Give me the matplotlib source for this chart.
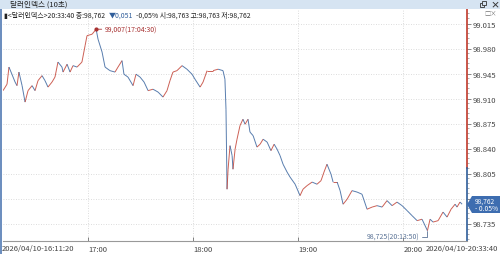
import matplotlib
matplotlib.use("Agg")
import matplotlib.pyplot as plt
import numpy as np
from matplotlib.collections import LineCollection
from matplotlib.patches import Polygon, Rectangle

plt.rcParams["font.family"] = ["Noto Sans CJK KR", "DejaVu Sans"]

# 경과 시간(분, 16:11:20 기준) / 가격 - 그림에서 읽은 값
elapsed_min = [0.0, 2.3, 3.4, 5.1, 6.9, 8.0, 9.1, 10.9, 12.6, 14.3, 16.6, 18.3, 20.0, 22.3,
               24.0, 25.7, 28.0, 29.7, 31.4, 33.7, 34.3, 36.6, 38.3, 40.0, 42.3, 45.1, 46.9,
               48.0, 50.9, 53.2, 54.3, 56.6, 58.3, 61.1, 64.0, 65.7, 68.0, 69.1, 71.4, 74.3,
               76.0, 78.3, 80.6, 82.9, 85.7, 88.6, 91.4, 93.7, 95.4, 97.1, 99.4, 102.3, 105.1,
               108.0, 109.7, 112.6, 114.3, 116.6, 120.0, 122.9, 125.7, 126.8, 127.4, 128.0,
               128.6, 129.7, 130.9, 131.4, 132.6, 133.7, 135.4, 137.1, 138.3, 140.0, 141.1,
               142.9, 145.1, 146.9, 148.6, 150.9, 153.1, 154.9, 156.6, 158.3, 160.0, 162.3,
               164.0, 166.9, 169.7, 171.4, 173.7, 176.6, 179.4, 181.7, 183.4, 185.1, 187.4,
               188.6, 190.9, 192.6, 194.3, 196.6, 199.4, 202.3, 205.1, 208.0, 210.9, 213.7,
               216.6, 219.4, 222.3, 225.1, 228.0, 230.9, 233.7, 236.6, 239.4, 242.5, 244.0,
               245.7, 248.6, 251.4, 253.7, 256.0, 258.3, 259.4, 261.1, 262.3]
price = [98.921, 98.930, 98.954, 98.944, 98.933, 98.928, 98.947, 98.928, 98.905, 98.921,
         98.928, 98.921, 98.935, 98.942, 98.935, 98.926, 98.933, 98.940, 98.961, 98.954,
         98.947, 98.958, 98.947, 98.956, 98.954, 98.961, 98.984, 98.998, 99.000, 99.007,
         98.993, 98.975, 98.954, 98.949, 98.947, 98.954, 98.963, 98.944, 98.940, 98.928,
         98.944, 98.940, 98.933, 98.921, 98.923, 98.919, 98.912, 98.921, 98.935, 98.947,
         98.949, 98.956, 98.951, 98.944, 98.937, 98.926, 98.933, 98.949, 98.949, 98.951,
         98.949, 98.937, 98.895, 98.783, 98.811, 98.844, 98.830, 98.811, 98.839, 98.853,
         98.872, 98.881, 98.874, 98.881, 98.863, 98.858, 98.842, 98.846, 98.853, 98.849,
         98.837, 98.846, 98.839, 98.830, 98.818, 98.807, 98.800, 98.790, 98.774, 98.783,
         98.788, 98.793, 98.790, 98.795, 98.807, 98.818, 98.804, 98.793, 98.793, 98.781,
         98.762, 98.769, 98.781, 98.779, 98.776, 98.755, 98.758, 98.760, 98.758,
         98.767, 98.760, 98.765, 98.760, 98.753, 98.746, 98.739, 98.741, 98.725, 98.741,
         98.737, 98.739, 98.751, 98.744, 98.755, 98.762, 98.758, 98.765, 98.762]

y_ticks = [98.735, 98.770, 98.805, 98.840, 98.875, 98.910, 98.945, 98.980, 99.015]
hour_pos = [48.67, 108.67, 168.67, 228.67]
hour_labels = ["17:00", "18:00", "19:00", "20:00"]
prev_close = 98.813
last_price = 98.762

UP = "#c0392b"
DOWN = "#2f5d9a"

fig = plt.figure(figsize=(5, 2.55), dpi=100)
fig.patch.set_facecolor("white")
W, H = 500, 255

def fx(px):
    return px / W

def fy(py):
    return 1 - py / H

ax = fig.add_axes([fx(3), fy(242), 464 / W, 232 / H])
ax.set_xlim(0, 265.1)
ax.set_ylim(98.7105, 99.0353)

# 그리드
for v in y_ticks:
    ax.axhline(v, color="#d0d0d0", lw=0.6, ls=(0, (1, 2)), zorder=0)
for h in hour_pos:
    ax.axvline(h, color="#d0d0d0", lw=0.6, ls=(0, (1, 2)), zorder=0)

# 가격선 (상승 빨강 / 하락 파랑)
t = np.array(elapsed_min)
p = np.array(price)
segs = np.stack([np.column_stack([t[:-1], p[:-1]]), np.column_stack([t[1:], p[1:]])], axis=1)
cols = [UP if b >= a else DOWN for a, b in zip(p[:-1], p[1:])]
ax.add_collection(LineCollection(segs, colors=cols, linewidths=0.7, alpha=0.8))

# 최고/최저 표시
imax = int(np.argmax(p))
imin = int(np.argmin(p))
ax.plot(t[imax], p[imax], "o", ms=2, color="#a83232")
ax.annotate("99,007(17:04:30)", xy=(t[imax], p[imax]), xytext=(6, 0),
            textcoords="offset points", fontsize=5, color="#a83232", va="center",
            arrowprops=dict(arrowstyle="-", color="#a83232", lw=0.6, shrinkA=0, shrinkB=0))
ax.annotate("98,725(20:13:50)", xy=(t[imin], p[imin]), xytext=(-6, -4.5),
            textcoords="offset points", fontsize=5, color="#5b7396", va="center", ha="right",
            arrowprops=dict(arrowstyle="-", color="#5b7396", lw=0.6, shrinkA=0, shrinkB=0,
                            connectionstyle="angle,angleA=0,angleB=90,rad=0"))

# 축 설정
for s in ["top", "left", "right"]:
    ax.spines[s].set_visible(False)
ax.spines["bottom"].set_color("#999999")
ax.spines["bottom"].set_linewidth(0.8)
ax.yaxis.tick_right()
ax.set_yticks(y_ticks)
ax.set_yticklabels([f"{v:.3f}" for v in y_ticks])
ax.set_yticks(np.arange(98.714, 99.035, 0.007), minor=True)
ax.tick_params(axis="y", which="major", length=3, width=0.5, color="#555555",
               labelsize=5.5, pad=1, labelcolor="#444444")
ax.tick_params(axis="y", which="minor", length=1.5, width=0.4, color="#777777")
ax.set_xticks(hour_pos)
ax.set_xticklabels(hour_labels)
for lab in ax.get_xticklabels():
    lab.set_horizontalalignment("left")
ax.tick_params(axis="x", length=3, width=0.5, direction="in", color="#555555",
               labelsize=5.5, pad=3, labelcolor="#444444")

# 오른쪽 축선 (전일 종가 기준 색 구분)
xr = ax.get_xlim()[1]
ax.plot([xr, xr], [prev_close, ax.get_ylim()[1]], color=UP, lw=1.2, clip_on=False)
ax.plot([xr, xr], [ax.get_ylim()[0], prev_close], color=DOWN, lw=1.2, clip_on=False)

# 양 끝 시간 라벨
fig.text(fx(2), fy(249), "2026/04/10-16:11:20", fontsize=5.5, color="#444444", va="center")
fig.text(fx(498), fy(249), "2026/04/10-20:33:40", fontsize=5.5, color="#444444",
         va="center", ha="right")

# 제목 바
fig.patches.append(Rectangle((0, fy(10)), 1, 10 / H, transform=fig.transFigure,
                             facecolor="#d6e4f2", edgecolor="none"))
fig.text(fx(10), fy(5), "달러인덱스 (10초)", fontsize=5.5, color="#222222", va="center")
# 창 복원 아이콘 (글리프가 없어 사각형으로 그림)
for dx, dy in [(0, 0), (1.5, -1.5)]:
    fig.patches.append(Rectangle((fx(480 + dx), fy(7.5 + dy)), 4 / W, 4 / H,
                                 transform=fig.transFigure, facecolor="#d6e4f2",
                                 edgecolor="#333333", lw=0.6))
fig.text(fx(490), fy(5), "×", fontsize=6.5, color="#333333", va="center", fontweight="bold")
fig.text(fx(484), fy(14), "□×", fontsize=4.5, color="#777777", va="center")

# 왼쪽 테두리
fig.patches.append(Rectangle((0, 0), fx(2), fy(10), transform=fig.transFigure,
                             facecolor="#6d8fbf", edgecolor="none"))

# 정보 라인 (앞 텍스트 끝에 이어 붙이기)
info_parts = [("▮<달러인덱스>20:33:40 종:98,762", "#222222"),
              ("▼0,051", DOWN),
              ("-0,05% 시:98,763 고:98,763 저:98,762", "#222222")]
anchor = fig.text(fx(4), fy(16), info_parts[0][0], fontsize=5, color=info_parts[0][1],
                  va="center")
for txt, c in info_parts[1:]:
    anchor = ax.annotate(txt, xy=(1, 0.5), xycoords=anchor, xytext=(2.5, 0),
                         textcoords="offset points", fontsize=5, color=c,
                         va="center", ha="left", annotation_clip=False)

# 현재가 박스
box = Polygon([(fx(467), fy(205.5)), (fx(472), fy(197)), (fx(500), fy(197)),
               (fx(500), fy(214)), (fx(472), fy(214))], closed=True,
              transform=fig.transFigure, facecolor="#3d6db0", edgecolor="none", zorder=5)
fig.patches.append(box)
fig.text(fx(475), fy(201.5), f"{last_price:.3f}".replace(".", ","), fontsize=4.8,
         color="white", va="center", zorder=6)
fig.text(fx(475), fy(209.5), "- 0.05%", fontsize=4.8, color="white", va="center", zorder=6)

fig.savefig("out.png", dpi=100)
